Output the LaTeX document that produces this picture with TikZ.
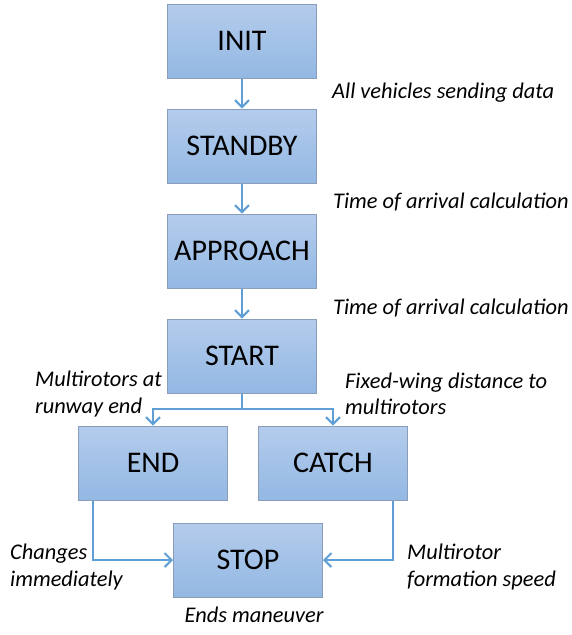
\documentclass[tikz,border=0pt]{standalone}
\usepackage{fontspec}
\setmainfont{Carlito}
\usepackage{xcolor}
\usetikzlibrary{arrows.meta,positioning}
\definecolor{boxtop}{RGB}{180,204,236}
\definecolor{boxbot}{RGB}{147,184,227}
\definecolor{boxline}{RGB}{138,158,186}
\definecolor{flowc}{RGB}{96,158,214}

\begin{document}
\begin{tikzpicture}[x=1pt, y=-1pt,
  state/.style={draw=boxline, line width=1pt, top color=boxtop, bottom color=boxbot,
    minimum width=149pt, minimum height=74pt, inner sep=0pt, font=\fontsize{30}{36}\selectfont},
  flow/.style={flowc, line width=2pt, -{Straight Barb[length=7pt, width=14pt, line width=2pt]}},
  note/.style={font=\fontsize{22.4}{26.5}\selectfont\itshape, align=left, inner sep=0pt}]
  \useasboundingbox (0,0) rectangle (571,635);
  % states
  \node[state] (init) at (242,41) {INIT};
  \node[state] (standby) at (242,146) {STANDBY};
  \node[state] (approach) at (242,251) {APPROACH};
  \node[state] (start) at (242,356) {START};
  \node[state] (end) at (153,463) {END};
  \node[state] (catch) at (333,463) {CATCH};
  \node[state] (stop) at (248,560) {STOP};
  % transitions
  \draw[flow] (init) -- (standby);
  \draw[flow] (standby) -- (approach);
  \draw[flow] (approach) -- (start);
  \coordinate (split) at (242,409);
  \draw[flowc, line width=2pt] (start) -- (split);
  \draw[flow] (split) -| (end);
  \draw[flow] (split) -| (catch);
  \draw[flow] ([xshift=15pt]end.south west) |- (stop);
  \draw[flow] ([xshift=-15pt]catch.south east) |- (stop);
  % conditions
  \node[note, anchor=west] (c1) at (332,93) {All vehicles sending data};
  \node[note, anchor=west] (c2) at (333,202) {Time of arrival calculation};
  \node[note, anchor=west] (c3) at (333,308) {Time of arrival calculation};
  \node[note, anchor=west] (c4) at (35,394) {Multirotors at\\runway end};
  \node[note, anchor=west] (c5) at (345,394) {Fixed-wing distance to\\multirotors};
  \node[note, anchor=west] (c6) at (10,567) {Changes\\immediately};
  \node[note, anchor=west] (c7) at (407,567) {Multirotor\\formation speed};
  \node[note] (c8) at (254,615) {Ends maneuver};
\end{tikzpicture}
\end{document}
